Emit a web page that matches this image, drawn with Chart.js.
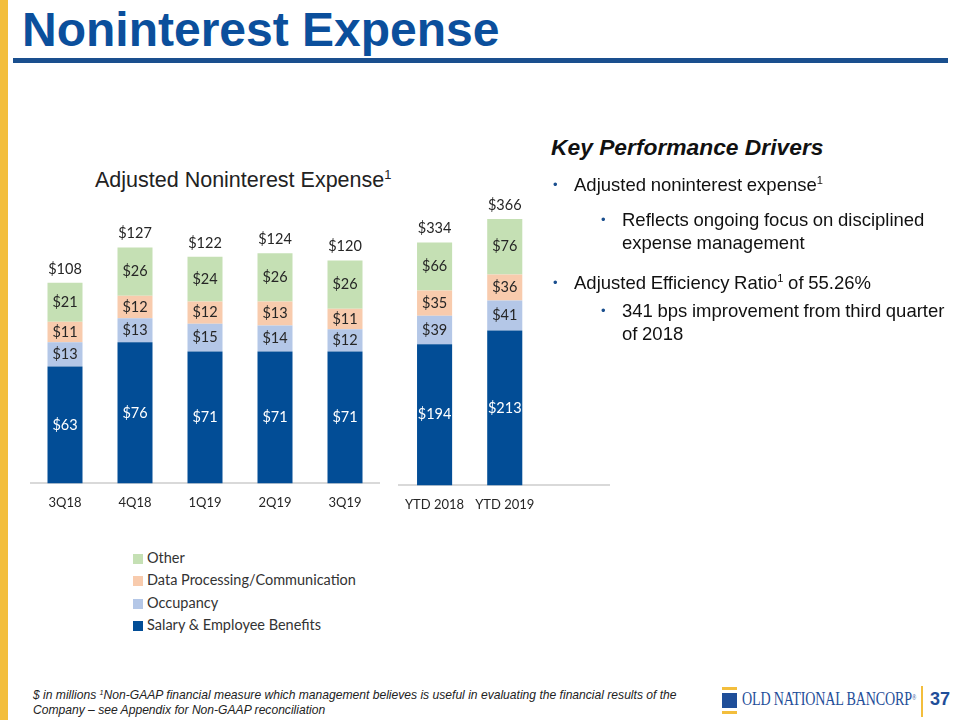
<!DOCTYPE html>
<html>
<head>
<meta charset="utf-8">
<script src="https://cdn.jsdelivr.net/npm/chart.js@4"></script>
<style>
  body { margin: 0; background: #fff; }
  #slide { position: relative; width: 960px; height: 720px; overflow: hidden; font-family: "Liberation Sans", Arial, sans-serif; }
  .abs { position: absolute; }
  #leftbar { left: 0; top: 0; width: 8px; height: 720px; background: #f3be3c; }
  #title { left: 22px; top: 2px; font-size: 48px; font-weight: bold; color: #0b4f9c; white-space: nowrap; }
  #rule { left: 13px; top: 58px; width: 935px; height: 5px; background: #1a4f8e; }
  #chartTitle { left: 95px; top: 168px; font-size: 21.5px; color: #222; white-space: nowrap; }
  sup { font-size: 60%; vertical-align: 0.6em; line-height: 0; }
  #legend { left: 133px; top: 548px; font-family: Lato, sans-serif; font-size: 14.5px; color: #333; }
  #legend div { height: 22.4px; line-height: 20px; white-space: nowrap; }
  #legend span { display: inline-block; width: 10px; height: 10px; margin-right: 4px; vertical-align: -1px; }
  #kpd { left: 551px; top: 134px; font-size: 22.8px; font-weight: bold; font-style: italic; color: #111; white-space: nowrap; }
  .b1, .b2 { font-size: 18.5px; color: #111; line-height: 23px; white-space: nowrap; word-spacing: -0.5px; }
  .b1::before, .b2::before { content: "•"; position: absolute; color: #1a4f8e; font-size: 13px; left: -21px; }
  #footer { left: 33px; top: 688px; font-family: "Liberation Sans Narrow", "Arial Narrow", sans-serif; font-style: italic; font-size: 12.1px; color: #222; line-height: 15px; white-space: nowrap; }
  #logoText { left: 742px; top: 688px; font-family: "Liberation Serif", serif; font-size: 19px; color: #1f4e99; transform: scaleX(0.74); transform-origin: left top; white-space: nowrap; letter-spacing: -0.2px; }
  #pageNum { left: 930px; top: 689px; font-size: 18px; font-weight: bold; color: #1f4e99; }
</style>
</head>
<body>
<div id="slide">
  <div id="leftbar" class="abs"></div>
  <div id="title" class="abs">Noninterest Expense</div>
  <div id="rule" class="abs"></div>
  <div id="chartTitle" class="abs">Adjusted Noninterest Expense<sup>1</sup></div>

  <div class="abs" style="left:30px; top:190px; width:350px; height:333px;"><canvas id="qChart"></canvas></div>
  <div class="abs" style="left:393px; top:190px; width:217px; height:335px;"><canvas id="yChart"></canvas></div>

  <div id="legend" class="abs"></div>

  <div id="kpd" class="abs">Key Performance Drivers</div>
  <div class="abs b1" style="left:574px; top:173px;">Adjusted noninterest expense<sup>1</sup></div>
  <div class="abs b2" style="left:622px; top:208px;">Reflects ongoing focus on disciplined<br>expense management</div>
  <div class="abs b1" style="left:574px; top:271px;">Adjusted Efficiency Ratio<sup>1</sup> of 55.26%</div>
  <div class="abs b2" style="left:622px; top:299px;">341 bps improvement from third quarter<br>of 2018</div>

  <div id="footer" class="abs">$ in millions <sup>1</sup>Non-GAAP financial measure which management believes is useful in evaluating the financial results of the<br>Company – see Appendix for Non-GAAP reconciliation</div>

  <div class="abs" style="left:722px; top:687px; width:15px; height:3px; background:#f3be3c;"></div>
  <div class="abs" style="left:722px; top:693px; width:15px; height:15px; background:#1f4e99;"></div>
  <div class="abs" style="left:722px; top:711px; width:15px; height:3px; background:#f3be3c;"></div>
  <div id="logoText" class="abs">OLD NATIONAL BANCORP<sup style="font-size:40%">®</sup></div>
  <div class="abs" style="left:921px; top:686px; width:2px; height:31px; background:#f3be3c;"></div>
  <div id="pageNum" class="abs">37</div>
</div>

<script>
// series names and colours
const seriesNames = ['Salary & Employee Benefits', 'Occupancy', 'Data Processing/Communication', 'Other'];
const seriesColors = ['#024d96', '#b4c7e7', '#f8cbad', '#c5e0b4'];
const labelColors = ['#ffffff', '#262626', '#262626', '#262626'];

// quarterly
const quarters = ['3Q18', '4Q18', '1Q19', '2Q19', '3Q19'];
const salaryQ = [63, 76, 71, 71, 71];
const occupancyQ = [13, 13, 15, 14, 12];
const dataProcQ = [11, 12, 12, 13, 11];
const otherQ = [21, 26, 24, 26, 26];
const totalQ = [108, 127, 122, 124, 120];

// year to date
const ytdLabels = ['YTD 2018', 'YTD 2019'];
const salaryY = [194, 213];
const occupancyY = [39, 41];
const dataProcY = [35, 36];
const otherY = [66, 76];
const totalY = [334, 366];

const fontFam = 'Lato, "Open Sans", sans-serif';

// draws the value in each segment and the total above each stack
const valueLabels = {
  id: 'valueLabels',
  afterDatasetsDraw(chart, args, opts) {
    const ctx = chart.ctx;
    ctx.save();
    ctx.font = '14.5px ' + fontFam;
    ctx.textAlign = 'center';
    ctx.textBaseline = 'middle';
    chart.data.datasets.forEach((ds, i) => {
      const meta = chart.getDatasetMeta(i);
      meta.data.forEach((bar, j) => {
        ctx.fillStyle = labelColors[i];
        ctx.fillText('$' + ds.data[j], bar.x, (bar.y + bar.base) / 2);
      });
    });
    const last = chart.getDatasetMeta(chart.data.datasets.length - 1);
    ctx.fillStyle = '#262626';
    last.data.forEach((bar, j) => {
      ctx.fillText('$' + opts.totals[j], bar.x, bar.y - 14);
    });
    ctx.restore();
  }
};

function makeChart(id, labels, series, totals, yMax) {
  return new Chart(document.getElementById(id), {
    type: 'bar',
    data: {
      labels: labels,
      datasets: series.map((d, i) => ({
        label: seriesNames[i],
        data: d,
        backgroundColor: seriesColors[i],
        borderWidth: 0,
        barPercentage: 0.5,
        categoryPercentage: 1
      }))
    },
    options: {
      responsive: true,
      maintainAspectRatio: false,
      animation: false,
      layout: { padding: 0 },
      plugins: {
        legend: { display: false },
        tooltip: { enabled: false },
        valueLabels: { totals: totals }
      },
      scales: {
        x: {
          stacked: true,
          grid: { display: false, drawTicks: false },
          border: { color: '#d9d9d9', width: 2 },
          ticks: { color: '#262626', font: { family: fontFam, size: 13 }, padding: 12, maxRotation: 0 }
        },
        y: { stacked: true, display: false, min: 0, max: yMax }
      }
    },
    plugins: [valueLabels]
  });
}

makeChart('qChart', quarters, [salaryQ, occupancyQ, dataProcQ, otherQ], totalQ, 158);
makeChart('yChart', [...ytdLabels, ''], [salaryY, occupancyY, dataProcY, otherY], totalY, 406);

// legend, top entry first
const legend = document.getElementById('legend');
for (let i = seriesNames.length - 1; i >= 0; i--) {
  const row = document.createElement('div');
  const sw = document.createElement('span');
  sw.style.background = seriesColors[i];
  row.appendChild(sw);
  row.appendChild(document.createTextNode(seriesNames[i]));
  legend.appendChild(row);
}
</script>
</body>
</html>
